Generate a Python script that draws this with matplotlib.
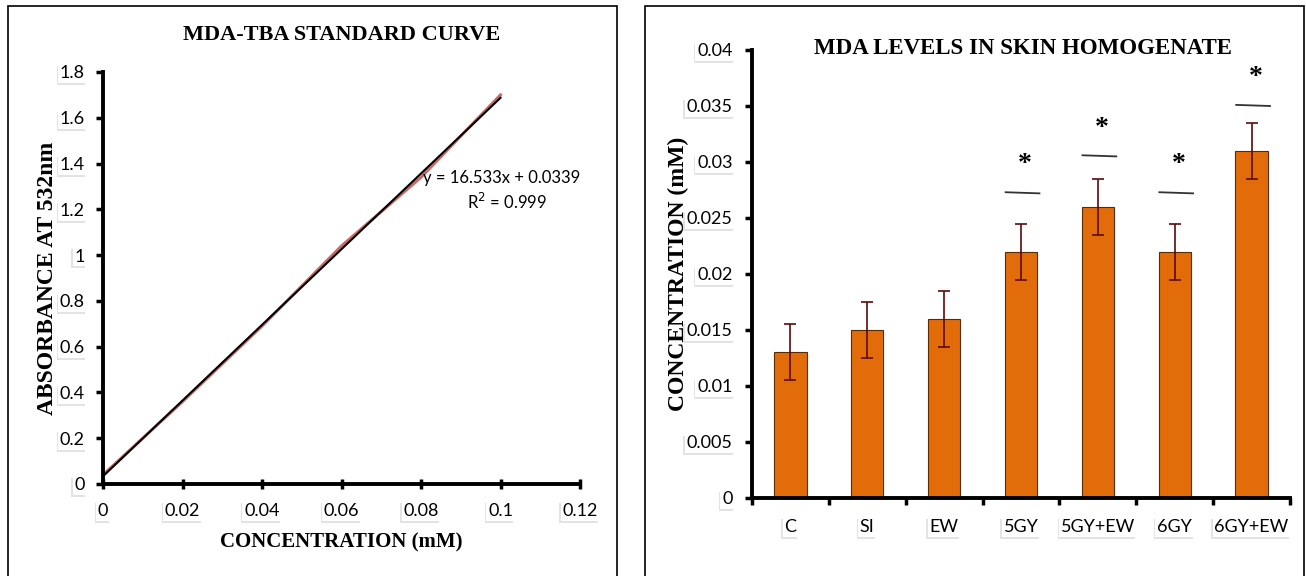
import matplotlib
matplotlib.use("Agg")
import matplotlib.pyplot as plt
import matplotlib.patheffects as pe
from matplotlib.patches import Rectangle
import numpy as np

# Standard curve data (MDA-TBA)
std_conc = [0.0, 0.02, 0.04, 0.06, 0.08, 0.10]
std_abs = [0.04, 0.36, 0.69, 1.04, 1.34, 1.70]
fit_slope = 16.533
fit_intercept = 0.0339
fit_r2 = 0.999

# MDA levels in skin homogenate
groups = ["C", "SI", "EW", "5GY", "5GY+EW", "6GY", "6GY+EW"]
mda_mean = [0.013, 0.015, 0.016, 0.022, 0.026, 0.022, 0.031]
mda_err = [0.0025, 0.0025, 0.0025, 0.0025, 0.0025, 0.0025, 0.0025]
sig_groups = ["5GY", "5GY+EW", "6GY", "6GY+EW"]
sig_line_y = [0.0273, 0.0306, 0.0273, 0.0351]
sig_star_y = [0.0298, 0.0330, 0.0298, 0.0375]

SERIF = "Liberation Serif"
SANS = "Lato"
ORANGE = "#E36C0A"

fig = plt.figure(figsize=(13.06, 5.76), dpi=100)
fig.patch.set_facecolor("white")

# panel frames
for x0, x1 in [(8, 617), (645, 1304)]:
    fig.patches.append(Rectangle((x0 / 1306, -0.05), (x1 - x0) / 1306, 1.05 - 6 / 576,
                                 transform=fig.transFigure, fill=False,
                                 edgecolor="black", linewidth=1.2))


def shadow_labels(labels):
    for t in labels:
        t.set_bbox(dict(boxstyle="square,pad=0.1", facecolor="white", edgecolor="none"))
        t.get_bbox_patch().set_path_effects(
            [pe.SimplePatchShadow(offset=(-1, -1.5), shadow_rgbFace="#b0b0b0", alpha=0.35),
             pe.Normal()])


def style_axes(ax):
    for s in ["top", "right"]:
        ax.spines[s].set_visible(False)
    for s in ["left", "bottom"]:
        ax.spines[s].set_linewidth(2.8)
        ax.spines[s].set_color("black")


# ---------- standard curve ----------
ax1 = fig.add_axes([103 / 1306, 1 - 484 / 576, (580 - 103) / 1306, (484 - 72) / 576])
style_axes(ax1)
ax1.plot(std_conc, std_abs, color="#c0504d", linewidth=2.2, alpha=0.85, zorder=2)
xf = np.array([0.0, max(std_conc)])
ax1.plot(xf, fit_slope * xf + fit_intercept, color="black", linewidth=1.5, zorder=3)
ax1.set_xlim(0, 0.12)
ax1.set_ylim(0, 1.8)
ax1.set_xticks([0, 0.02, 0.04, 0.06, 0.08, 0.1, 0.12])
ax1.set_xticklabels(["0", "0.02", "0.04", "0.06", "0.08", "0.1", "0.12"])
ax1.set_yticks([0, 0.2, 0.4, 0.6, 0.8, 1.0, 1.2, 1.4, 1.6, 1.8])
ax1.set_yticklabels(["0", "0.2", "0.4", "0.6", "0.8", "1", "1.2", "1.4", "1.6", "1.8"])
ax1.tick_params(axis="x", direction="inout", length=7, width=2.5, pad=10, labelsize=13)
ax1.tick_params(axis="y", direction="out", length=5, width=2.5, pad=8, labelsize=13)
for t in ax1.get_xticklabels() + ax1.get_yticklabels():
    t.set_fontfamily(SANS)
shadow_labels(ax1.get_xticklabels() + ax1.get_yticklabels())
ax1.set_title("MDA-TBA STANDARD CURVE", fontfamily=SERIF, fontweight="bold",
              fontsize=16, pad=23)
ax1.set_xlabel("CONCENTRATION (mM)", fontfamily=SERIF, fontweight="bold",
               fontsize=15, labelpad=10)
ax1.set_ylabel("ABSORBANCE AT 532nm", fontfamily=SERIF, fontweight="bold",
               fontsize=17, labelpad=1)
ax1.text(0.1003, 1.337, f"y = {fit_slope}x + {fit_intercept}", fontfamily=SANS,
         fontsize=12, ha="center", va="center")
ax1.text(0.1016, 1.232, f"R$^2$ = {fit_r2}", fontfamily=SANS,
         fontsize=12, ha="center", va="center")

# ---------- MDA bar chart ----------
ax2 = fig.add_axes([752 / 1306, 1 - 498 / 576, (1290 - 752) / 1306, (498 - 50) / 576])
style_axes(ax2)
pos = np.arange(len(groups))
ax2.bar(pos, mda_mean, width=0.42, color=ORANGE, edgecolor="#5a2a00", linewidth=0.8, zorder=2)
ax2.errorbar(pos, mda_mean, yerr=mda_err, fmt="none", ecolor="#5c0a0a",
             elinewidth=1.2, capsize=4, capthick=1.2, zorder=3)
for g, ly, sy in zip(sig_groups, sig_line_y, sig_star_y):
    i = groups.index(g)
    ax2.plot([i - 0.2, i + 0.24], [ly, ly - 0.0001], color="#333333", linewidth=1.3, zorder=3)
    ax2.text(i + 0.05, sy, "*", fontfamily=SERIF, fontweight="bold", fontsize=20,
             ha="center", va="center")
ax2.set_xlim(-0.5, len(groups) - 0.5)
ax2.set_ylim(0, 0.04)
ax2.set_yticks([0, 0.005, 0.01, 0.015, 0.02, 0.025, 0.03, 0.035, 0.04])
ax2.set_yticklabels(["0", "0.005", "0.01", "0.015", "0.02", "0.025", "0.03", "0.035", "0.04"])
ax2.set_xticks(pos)
ax2.set_xticklabels(groups)
ax2.set_xticks(np.arange(-0.5, len(groups)), minor=True)
ax2.tick_params(axis="x", which="major", length=0, pad=15, labelsize=13)
ax2.tick_params(axis="x", which="minor", direction="out", length=5, width=2.5)
ax2.tick_params(axis="y", direction="out", length=5, width=2.5, pad=9, labelsize=13)
for t in ax2.get_xticklabels() + ax2.get_yticklabels():
    t.set_fontfamily(SANS)
shadow_labels(ax2.get_xticklabels() + ax2.get_yticklabels())
ax2.set_ylabel("CONCENTRATION (mM)", fontfamily=SERIF, fontweight="bold",
               fontsize=17, labelpad=-2)
fig.text(1023 / 1306, 1 - 48 / 576, "MDA LEVELS IN SKIN HOMOGENATE", fontfamily=SERIF,
         fontweight="bold", fontsize=16.5, ha="center", va="center")

fig.savefig("out.png", dpi=100, facecolor="white")
